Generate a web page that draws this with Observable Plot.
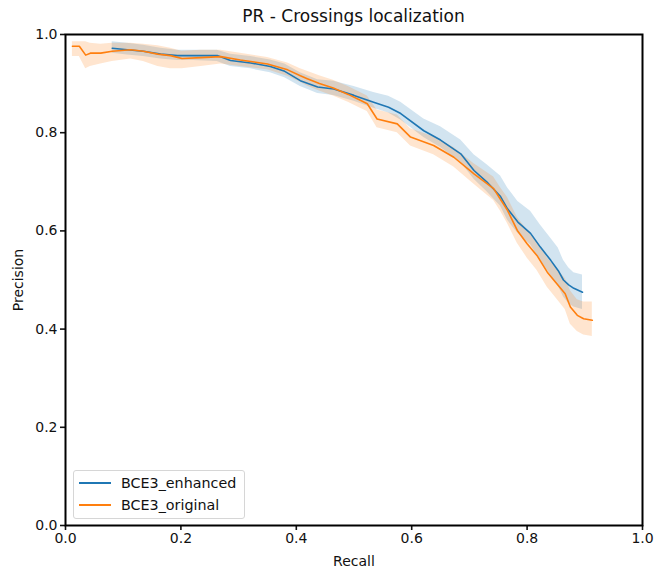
<!DOCTYPE html>
<html>
<head>
<meta charset="utf-8">
<script src="https://cdn.jsdelivr.net/npm/d3@7"></script>
<script src="https://cdn.jsdelivr.net/npm/@observablehq/plot@0.6"></script>
<style>
  html, body { margin: 0; padding: 0; background: #fff; }
  #wrap { position: relative; width: 656px; height: 571px; font-family: "DejaVu Sans", sans-serif; color: #111; }
  #title { position: absolute; left: 65px; width: 577px; top: 6px; text-align: center; font-size: 17px; }
  #legend { position: absolute; left: 73px; top: 470px; width: 172px; height: 49px; border: 1px solid #d6d6d6; border-radius: 3px; background: rgba(255,255,255,0.8); box-sizing: border-box; font-size: 14.3px; }
  .item { position: absolute; left: 5px; height: 18px; display: flex; align-items: center; }
  .sw { width: 32px; height: 2px; margin-right: 10px; }
</style>
</head>
<body>
<div id="wrap">
  <div id="chart"></div>
  <div id="title">PR - Crossings localization</div>
  <div id="legend">
    <div class="item" style="top:3px"><span class="sw" style="background:#1f77b4"></span><span>BCE3_enhanced</span></div>
    <div class="item" style="top:25px"><span class="sw" style="background:#ff7f0e"></span><span>BCE3_original</span></div>
  </div>
</div>
<script>
const seriesNames = ["BCE3_enhanced", "BCE3_original"];
const seriesColors = ["#1f77b4", "#ff7f0e"];
const xTicks = [0.0, 0.2, 0.4, 0.6, 0.8, 1.0];
const yTicks = [0.0, 0.2, 0.4, 0.6, 0.8, 1.0];

// BCE3_enhanced
const enhRecall = [0.081, 0.107, 0.135, 0.165, 0.194, 0.222, 0.263, 0.286, 0.321, 0.355, 0.380, 0.407, 0.437, 0.465, 0.500, 0.534, 0.560, 0.581, 0.621, 0.650, 0.685, 0.708, 0.730, 0.754, 0.766, 0.784, 0.806, 0.823, 0.841, 0.854, 0.863, 0.872, 0.881, 0.896];
const enhPrecision = [0.972, 0.969, 0.966, 0.960, 0.957, 0.957, 0.957, 0.947, 0.942, 0.935, 0.925, 0.906, 0.893, 0.889, 0.876, 0.862, 0.852, 0.839, 0.804, 0.785, 0.757, 0.723, 0.700, 0.670, 0.645, 0.618, 0.595, 0.567, 0.540, 0.519, 0.500, 0.490, 0.483, 0.475];
const enhLower = [0.962, 0.958, 0.955, 0.950, 0.947, 0.947, 0.945, 0.935, 0.930, 0.922, 0.912, 0.894, 0.880, 0.876, 0.864, 0.850, 0.840, 0.826, 0.790, 0.770, 0.740, 0.705, 0.680, 0.650, 0.622, 0.595, 0.572, 0.540, 0.510, 0.488, 0.466, 0.452, 0.445, 0.440];
const enhUpper = [0.985, 0.982, 0.978, 0.972, 0.968, 0.968, 0.968, 0.960, 0.955, 0.948, 0.940, 0.922, 0.908, 0.905, 0.894, 0.882, 0.874, 0.862, 0.828, 0.812, 0.785, 0.755, 0.735, 0.712, 0.688, 0.660, 0.640, 0.612, 0.585, 0.565, 0.540, 0.525, 0.515, 0.510];

// BCE3_original
const oriRecall = [0.012, 0.024, 0.035, 0.043, 0.061, 0.081, 0.113, 0.135, 0.160, 0.182, 0.202, 0.235, 0.269, 0.303, 0.350, 0.385, 0.407, 0.419, 0.440, 0.464, 0.490, 0.511, 0.523, 0.540, 0.575, 0.598, 0.638, 0.673, 0.708, 0.742, 0.754, 0.766, 0.783, 0.800, 0.817, 0.835, 0.849, 0.866, 0.875, 0.887, 0.898, 0.913];
const oriPrecision = [0.976, 0.976, 0.958, 0.962, 0.962, 0.966, 0.969, 0.966, 0.960, 0.957, 0.951, 0.953, 0.955, 0.948, 0.940, 0.928, 0.916, 0.910, 0.900, 0.891, 0.878, 0.866, 0.859, 0.828, 0.818, 0.791, 0.774, 0.750, 0.716, 0.686, 0.664, 0.642, 0.601, 0.574, 0.550, 0.516, 0.496, 0.472, 0.445, 0.428, 0.421, 0.418];
const oriLower = [0.955, 0.955, 0.930, 0.935, 0.940, 0.945, 0.950, 0.945, 0.935, 0.930, 0.930, 0.935, 0.940, 0.935, 0.928, 0.915, 0.903, 0.895, 0.885, 0.875, 0.862, 0.850, 0.843, 0.810, 0.800, 0.773, 0.755, 0.730, 0.695, 0.662, 0.640, 0.615, 0.575, 0.545, 0.520, 0.485, 0.465, 0.440, 0.410, 0.395, 0.388, 0.385];
const oriUpper = [0.985, 0.985, 0.985, 0.982, 0.980, 0.982, 0.982, 0.980, 0.977, 0.972, 0.966, 0.968, 0.968, 0.962, 0.953, 0.942, 0.930, 0.925, 0.916, 0.907, 0.894, 0.882, 0.875, 0.846, 0.836, 0.808, 0.792, 0.770, 0.737, 0.710, 0.688, 0.668, 0.628, 0.602, 0.578, 0.545, 0.527, 0.503, 0.478, 0.460, 0.455, 0.455];

function rows(name, r, p, lo, hi) {
  return r.map((x, i) => ({series: name, recall: x, precision: p[i], lower: lo[i], upper: hi[i]}));
}
const data = [
  ...rows(seriesNames[0], enhRecall, enhPrecision, enhLower, enhUpper),
  ...rows(seriesNames[1], oriRecall, oriPrecision, oriLower, oriUpper)
];

const chart = Plot.plot({
  width: 656,
  height: 571,
  marginTop: 34,
  marginLeft: 65,
  marginRight: 14,
  marginBottom: 46,
  style: {fontFamily: "DejaVu Sans, sans-serif", fontSize: "14px", color: "#111", background: "white"},
  x: {domain: [0, 1]},
  y: {domain: [0, 1]},
  color: {domain: seriesNames, range: seriesColors},
  marks: [
    Plot.areaY(data, {x: "recall", y1: "lower", y2: "upper", z: "series", fill: "series", fillOpacity: 0.2, curve: "linear"}),
    Plot.lineY(data, {x: "recall", y: "precision", z: "series", stroke: "series", strokeWidth: 1.6}),
    Plot.axisX({ticks: xTicks, tickFormat: d3.format(".1f"), tickSize: 5, tickPadding: 3, strokeWidth: 1.6, label: "Recall", labelAnchor: "center", labelArrow: "none", labelOffset: 40, fontSize: 14}),
    Plot.axisY({ticks: yTicks, tickFormat: d3.format(".1f"), tickSize: 5, tickPadding: 3, strokeWidth: 1.6, label: "Precision", labelAnchor: "center", labelArrow: "none", labelOffset: 52, fontSize: 14}),
    Plot.frame({stroke: "black", strokeWidth: 2})
  ]
});
document.getElementById("chart").appendChild(chart);
</script>
</body>
</html>
